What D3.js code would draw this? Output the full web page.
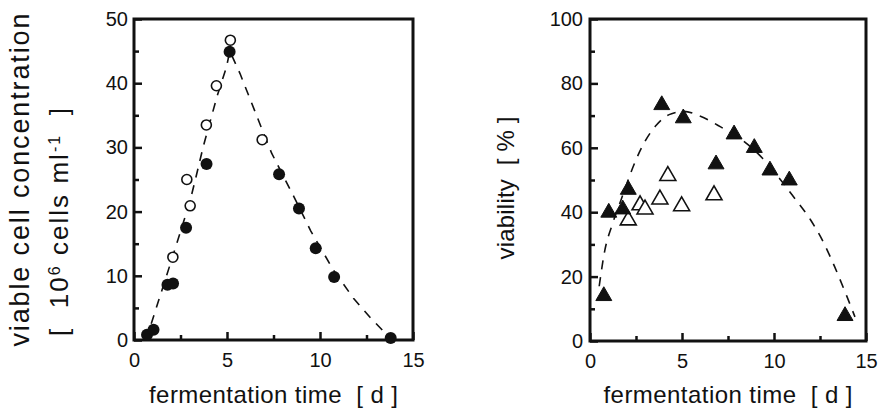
<!DOCTYPE html>
<html>
<head>
    <meta charset="utf-8">
    <title>Fermentation time course</title>
    <script src="https://d3js.org/d3.v7.min.js"></script>
    <style>
        html, body {
            margin: 0;
            background: #fff;
        }
        text {
            font-family: "Liberation Sans", Arial, sans-serif;
            fill: #111;
            white-space: pre;
        }
    </style>
</head>
<body>
    <svg id="svg"></svg>
    <script>
        // left panel: viable cell concentration [10^6 cells/ml]
        const cellTimeFilled = [0.7, 1.05, 1.8, 2.1, 2.8, 3.9, 5.14, 7.8, 8.87, 9.77, 10.76, 13.8];
        const cellConcFilled = [0.8, 1.6, 8.6, 8.8, 17.5, 27.4, 44.9, 25.8, 20.5, 14.3, 9.8, 0.3];
        const cellTimeOpen = [2.09, 2.84, 3.02, 3.89, 4.43, 5.18, 6.89];
        const cellConcOpen = [12.9, 25.0, 20.9, 33.5, 39.6, 46.7, 31.2];
        const cellFitTime = [0.65, 1.22, 2.1, 3.0, 3.3, 3.72, 4.46, 4.97, 5.15, 5.7, 6.9, 7.4, 8.6, 9.5, 10.7, 11.8, 12.7, 13.6, 13.9];
        const cellFitConc = [0, 5.2, 13.2, 21.5, 25, 30.1, 37.9, 42.5, 45, 41.5, 32.7, 29.1, 22.3, 17, 11, 6.5, 3.5, 0.8, 0];

        // right panel: viability [%]
        const viaTimeFilled = [0.75, 1.02, 1.78, 2.08, 3.9, 5.07, 6.85, 7.83, 8.93, 9.78, 10.83, 13.86];
        const viaFilled = [14.3, 40.2, 41.2, 47.3, 73.6, 69.5, 55.2, 64.5, 60.3, 53.3, 50.2, 8.1];
        const viaTimeOpen = [2.08, 2.72, 2.99, 3.8, 4.23, 4.98, 6.74];
        const viaOpen = [37.8, 42.5, 41.2, 44.3, 51.6, 42.2, 45.6];
        const viaFitTime = [0.5, 0.8, 1.2, 1.7, 2.2, 2.8, 3.6, 4.3, 5.1, 6.0, 7.1, 8.5, 9.4, 10.3, 11.1, 12.0, 12.7, 13.3, 13.95, 14.4];
        const viaFit = [17, 28, 36, 44, 52, 60, 67, 70.3, 71.3, 69.8, 66.5, 61.4, 56.6, 50.5, 44.5, 37.5, 30.5, 23, 14, 7.5];

        const xTicks = [0, 5, 10, 15];
        const xMinor = [2.5, 7.5, 12.5];
        const leftYTicks = [0, 10, 20, 30, 40, 50];
        const leftYMinor = [5, 15, 25, 35, 45];
        const rightYTicks = [0, 20, 40, 60, 80, 100];
        const rightYMinor = [10, 30, 50, 70, 90];

        const width = 888;
        const height = 415;

        const svg = d3.select("#svg")
        .attr("width", width)
        .attr("height", height);

        const zip = (xs, ys) => xs.map((x, i) => [x, ys[i]]);

        function drawPanel(p) {
            const x = d3.scaleLinear().domain([0, 15]).range([p.left, p.right]);
            const y = d3.scaleLinear().domain([0, p.yMax]).range([p.bottom, p.top]);
            const g = svg.append("g");

            // minor + major ticks, pointing inward
            g.append("g")
            .attr("transform", `translate(0,${p.bottom})`)
            .call(d3.axisBottom(x).tickValues(xMinor).tickSize(-5).tickFormat(""));
            g.append("g")
            .attr("transform", `translate(0,${p.bottom})`)
            .call(d3.axisBottom(x).tickValues(xTicks).tickSize(-8).tickPadding(13));
            g.append("g")
            .attr("transform", `translate(${p.left},0)`)
            .call(d3.axisLeft(y).tickValues(p.yMinor).tickSize(-5).tickFormat(""));
            g.append("g")
            .attr("transform", `translate(${p.left},0)`)
            .call(d3.axisLeft(y).tickValues(p.yTicks).tickSize(-8).tickPadding(p.yPad));

            g.selectAll(".domain").remove();
            g.selectAll(".tick line").attr("stroke", "#111").attr("stroke-width", 2.5);
            g.selectAll(".tick text")
            .attr("font-size", 20)
            .attr("font-family", "Liberation Sans, Arial, sans-serif")
            .attr("fill", "#111");

            g.append("rect")
            .attr("x", p.left)
            .attr("y", p.top)
            .attr("width", p.right - p.left)
            .attr("height", p.bottom - p.top)
            .attr("fill", "none")
            .attr("stroke", "#111")
            .attr("stroke-width", 3);

            const line = d3.line()
            .x(d => x(d[0]))
            .y(d => y(d[1]))
            .curve(p.curve);

            g.append("path")
            .datum(p.fit)
            .attr("d", line)
            .attr("fill", "none")
            .attr("stroke", "#111")
            .attr("stroke-width", 1.6)
            .attr("stroke-dasharray", "9,8");

            if (p.marker === "circle") {
                g.selectAll(".open")
                .data(p.open)
                .enter()
                .append("circle")
                .attr("cx", d => x(d[0]))
                .attr("cy", d => y(d[1]))
                .attr("r", 5)
                .attr("fill", "#fff")
                .attr("stroke", "#111")
                .attr("stroke-width", 1.6);

                g.selectAll(".filled")
                .data(p.filled)
                .enter()
                .append("circle")
                .attr("cx", d => x(d[0]))
                .attr("cy", d => y(d[1]))
                .attr("r", 6)
                .attr("fill", "#111");
            } else {
                const tri = d3.symbol().type(d3.symbolTriangle).size(110);
                g.selectAll(".open")
                .data(p.open)
                .enter()
                .append("path")
                .attr("d", tri)
                .attr("transform", d => `translate(${x(d[0])},${y(d[1]) + 1})`)
                .attr("fill", "#fff")
                .attr("stroke", "#111")
                .attr("stroke-width", 1.6);

                g.selectAll(".filled")
                .data(p.filled)
                .enter()
                .append("path")
                .attr("d", tri)
                .attr("transform", d => `translate(${x(d[0])},${y(d[1]) + 1})`)
                .attr("fill", "#111")
                .attr("stroke", "#111")
                .attr("stroke-width", 1);
            }

            g.append("text")
            .attr("x", (p.left + p.right) / 2)
            .attr("y", 403)
            .attr("text-anchor", "middle")
            .attr("font-size", 24)
            .attr("textLength", 249)
            .attr("lengthAdjust", "spacing")
            .text("fermentation time  [ d ]");

            return g;
        }

        const leftPanel = drawPanel({
            left: 134, right: 413, top: 19, bottom: 340,
            yMax: 50, yTicks: leftYTicks, yMinor: leftYMinor, yPad: 6,
            filled: zip(cellTimeFilled, cellConcFilled),
            open: zip(cellTimeOpen, cellConcOpen),
            fit: zip(cellFitTime, cellFitConc),
            curve: d3.curveLinear,
            marker: "circle"
        });

        const rightPanel = drawPanel({
            left: 590, right: 866, top: 19, bottom: 341,
            yMax: 100, yTicks: rightYTicks, yMinor: rightYMinor, yPad: 7,
            filled: zip(viaTimeFilled, viaFilled),
            open: zip(viaTimeOpen, viaOpen),
            fit: zip(viaFitTime, viaFit),
            curve: d3.curveMonotoneX,
            marker: "triangle"
        });

        // y titles
        leftPanel.append("text")
        .attr("transform", "translate(29,180) rotate(-90)")
        .attr("text-anchor", "middle")
        .attr("font-size", 27)
        .attr("textLength", 333)
        .attr("lengthAdjust", "spacing")
        .text("viable cell concentration");

        const unit = leftPanel.append("text")
        .attr("transform", "translate(68,222) rotate(-90)")
        .attr("text-anchor", "middle")
        .attr("font-size", 26)
        .attr("textLength", 228)
        .attr("lengthAdjust", "spacing");
        unit.append("tspan").text("[  10");
        unit.append("tspan").attr("baseline-shift", "super").attr("font-size", 16).text("6");
        unit.append("tspan").text(" cells ml");
        unit.append("tspan").attr("baseline-shift", "super").attr("font-size", 16).text("-1");
        unit.append("tspan").text("  ]");

        rightPanel.append("text")
        .attr("transform", "translate(514,188) rotate(-90)")
        .attr("text-anchor", "middle")
        .attr("font-size", 24)
        .attr("textLength", 143)
        .attr("lengthAdjust", "spacing")
        .text("viability  [ % ]");
    </script>
</body>
</html>
